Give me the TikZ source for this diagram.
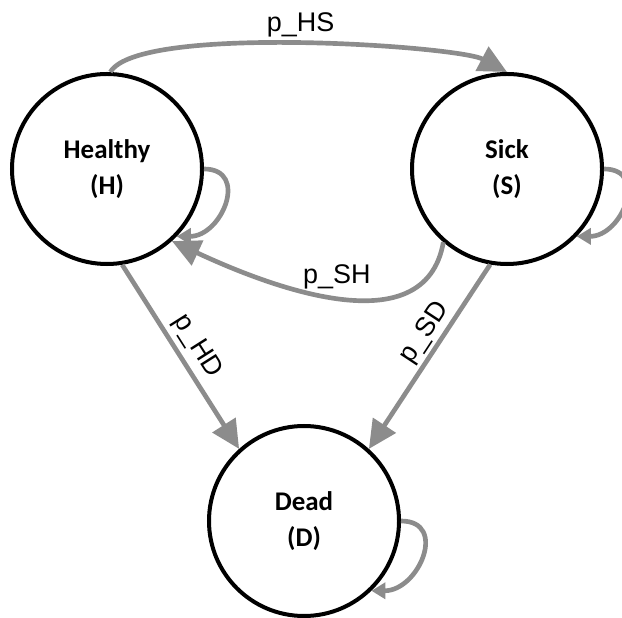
\documentclass[tikz,border=0pt]{standalone}
\usepackage{fontspec}
\setmainfont{Carlito}
\newfontfamily\edgefont{Liberation Sans}
\usetikzlibrary{arrows.meta}
\definecolor{edgegray}{RGB}{140,140,140}
\begin{document}
\begin{tikzpicture}[x=0.03cm, y=0.03cm,
    state/.style={circle, draw=black, line width=0.12cm, minimum size=5.7cm, inner sep=0pt,
        align=center, font=\fontsize{23}{31}\selectfont\bfseries},
    trans/.style={draw=edgegray, line width=0.14cm, -{Triangle[length=0.85cm, width=0.8cm]}},
    selfloop/.style={draw=edgegray, line width=0.14cm, -{Triangle[length=0.42cm, width=0.48cm]}},
    plabel/.style={font=\edgefont\fontsize{23}{28}\selectfont, text=black}]
    % Marco
    \useasboundingbox (0,0) rectangle (622,617);

    % Estados
    \node[state] (H) at (107,448) {Healthy\\(H)};
    \node[state] (S) at (507,448) {Sick\\(S)};
    \node[state] (D) at (304,96) {Dead\\(D)};

    % Transiciones entre estados
    \draw[trans] (H.88) to[out=60, in=152, looseness=0.36] node[pos=0.5, above=1pt, plabel] {p\_HS} (S.90);
    \draw[trans] (S.229) to[out=-100, in=-25] node[pos=0.5, above=2pt, plabel] {p\_SH} (H.-48);
    \draw[trans] (H.-81) -- (D.132) node[pos=0.5, above=1pt, sloped, plabel] {p\_HD};
    \draw[trans] (S.-100) -- (D.48) node[pos=0.42, above=-1pt, sloped, plabel] {p\_SD};

    % Lazos
    \draw[selfloop] (H.0) to[out=0, in=0, looseness=1.6] (H.-44);
    \draw[selfloop] (S.0) to[out=0, in=0, looseness=1.6] (S.-44);
    \draw[selfloop] (D.0) to[out=0, in=0, looseness=1.6] (D.-46);
\end{tikzpicture}
\end{document}
